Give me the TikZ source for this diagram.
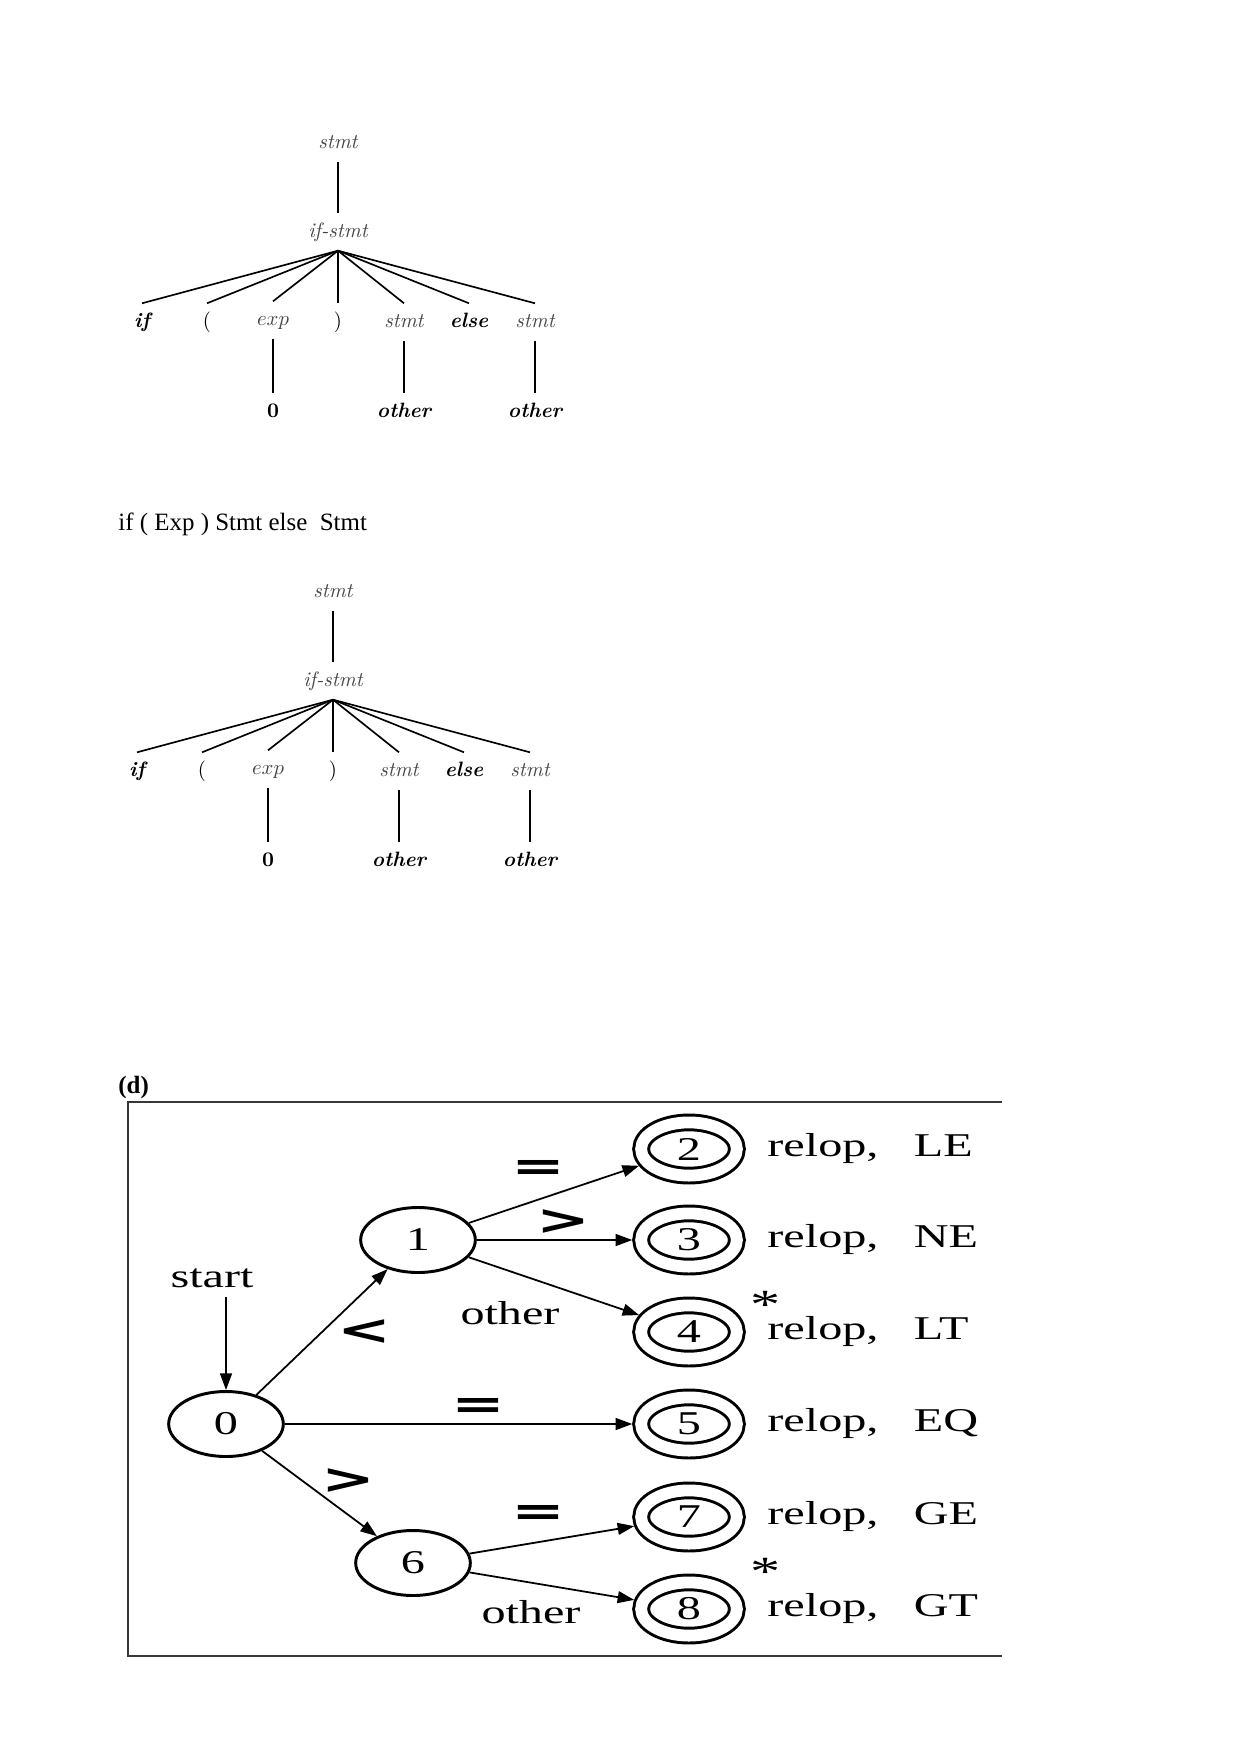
\documentclass[tikz,border=0pt]{standalone}
\usepackage{fontspec}
\usepackage{graphicx}
\usetikzlibrary{arrows.meta,positioning,shapes.geometric}
\newfontfamily\docfont{Liberation Serif}
\newfontfamily\dfafont[FakeStretch=1.45]{Liberation Serif}
\newfontfamily\symfont{DejaVu Sans}
\newcommand{\widesym}[1]{\scalebox{1.55}[1]{#1}}
\definecolor{treegray}{RGB}{70,70,70}
\definecolor{framegray}{RGB}{55,55,55}
\tikzset{
  >={Triangle[length=2.8mm,width=2mm]},
  tnode/.style={inner xsep=1pt,inner ysep=4.5pt,outer sep=0pt,
    text height=7pt,text depth=2pt},
  nt/.style={tnode,font=\itshape,text=treegray},
  kw/.style={tnode,font=\bfseries\itshape},
  punct/.style={tnode},
  branch/.style={line width=0.8pt},
  doctext/.style={font=\docfont\fontsize{12}{14}\selectfont,inner sep=0pt},
  state/.style={
    ellipse,
    draw,
    line width=0.5mm,
    minimum width=19.4mm,
    minimum height=11mm,
    inner sep=1pt,
    font=\dfafont\fontsize{16}{18}\selectfont
  },
  accept/.style={
    state,
    double,
    double distance=2mm,
    minimum width=16.2mm,
    minimum height=9mm,
    outer sep=1.5mm
  },
  edge/.style={->,line width=0.3mm},
  dfatext/.style={font=\dfafont\fontsize{16}{18}\selectfont,inner sep=0pt},
  token/.style={dfatext,text height=0.7em,text depth=0pt},
  starmark/.style={font=\dfafont\fontsize{20}{22}\selectfont,inner sep=0pt},
  sym/.style={font=\symfont\bfseries\fontsize{20}{22}\selectfont,inner sep=0pt},
  frame/.style={draw=framegray,line width=0.35mm}
}

% one parse tree for if ( exp ) stmt else stmt
\newcommand{\iftree}[2]{%
  \begin{scope}[shift={#2}]
    \node[nt] (#1root) at (338,143) {stmt};
    \node[nt] (#1ifstmt) at (338,232) {if-stmt};
    \node[kw] (#1if) at (142,322) {if};
    \node[punct] (#1lp) at (207,322) {(};
    \node[nt] (#1exp) at (273,320) {$exp$};
    \node[punct] (#1rp) at (338,322) {)};
    \node[nt] (#1then) at (404,322) {stmt};
    \node[kw] (#1else) at (469,322) {else};
    \node[nt] (#1alt) at (535,322) {stmt};
    \node[kw] (#1zero) at (273,412) {\upshape 0};
    \node[kw] (#1thenleaf) at (404,412) {other};
    \node[kw] (#1altleaf) at (535,412) {other};
    \draw[branch] (#1root) -- (#1ifstmt);
    \foreach \kid in {if,lp,exp,rp,then,else,alt}
      \draw[branch] (#1ifstmt.south) -- (#1\kid.north);
    \draw[branch] (#1exp) -- (#1zero);
    \draw[branch] (#1then) -- (#1thenleaf);
    \draw[branch] (#1alt) -- (#1altleaf);
  \end{scope}}

\begin{document}
\begin{tikzpicture}[x=0.16922mm,y=-0.16922mm]
  \path[use as bounding box,fill=white] (0,0) rectangle (1241,1754);

  \iftree{a}{(0,0)}

  \node[doctext,anchor=base west] (caption) at (118,530) {if ( Exp ) Stmt else~ Stmt};

  \iftree{b}{(-5,449)}

  \node[doctext,anchor=base west] (partd) at (118,1093) {\bfseries (d)};

  \draw[frame] (1002,1102) -- (128,1102) -- (128,1656) -- (1002,1656);

  \node[state] (s0) at (226,1424) {0};
  \node[state] (s1) at (418,1240) {1};
  \node[state] (s6) at (413,1563) {6};

  \node[accept] (s2) at (689,1149) {2};
  \node[accept] (s3) at (689,1240) {3};
  \node[accept] (s4) at (689,1332) {4};
  \node[accept] (s5) at (689,1424) {5};
  \node[accept] (s7) at (689,1517) {7};
  \node[accept] (s8) at (689,1609) {8};

  \node[token,right=3.6mm of s2] (tokLE) {relop,\hspace{6mm}LE};
  \node[token,right=3.6mm of s3] (tokNE) {relop,\hspace{6mm}NE};
  \node[token,right=3.6mm of s4] (tokLT) {relop,\hspace{6mm}LT};
  \node[token,right=3.6mm of s5] (tokEQ) {relop,\hspace{6mm}EQ};
  \node[token,right=3.6mm of s7] (tokGE) {relop,\hspace{6mm}GE};
  \node[token,right=3.6mm of s8] (tokGT) {relop,\hspace{6mm}GT};

  \node[starmark] (starLT) at (766,1305) {\raisebox{-0.5em}{*}};
  \node[starmark] (starGT) at (766,1572) {\raisebox{-0.5em}{*}};

  \node[dfatext] (start) at (212,1278) {start};
  \draw[edge,shorten <=1.5mm] (start.south -| s0) -- (s0);

  \node[sym] (lt) at (364,1332) {\widesym{<}};
  \node[sym] (eqLE) at (538,1170) {\widesym{=}};
  \node[sym] (gtNE) at (563,1222) {\widesym{>}};
  \node[dfatext] (otherLT) at (510,1313) {other};
  \node[sym] (eqEQ) at (478,1408) {\widesym{=}};
  \node[sym] (gt) at (348,1481) {\widesym{>}};
  \node[sym] (eqGE) at (538,1515) {\widesym{=}};
  \node[dfatext] (otherGT) at (531,1612) {other};

  \draw[edge] (s0) -- (s1);
  \draw[edge] (s0) -- (s5);
  \draw[edge] (s0) -- (s6);
  \draw[edge] (s1) -- (s2);
  \draw[edge] (s1) -- (s3);
  \draw[edge] (s1) -- (s4);
  \draw[edge] (s6) -- (s7);
  \draw[edge] (s6) -- (s8);

\end{tikzpicture}
\end{document}
